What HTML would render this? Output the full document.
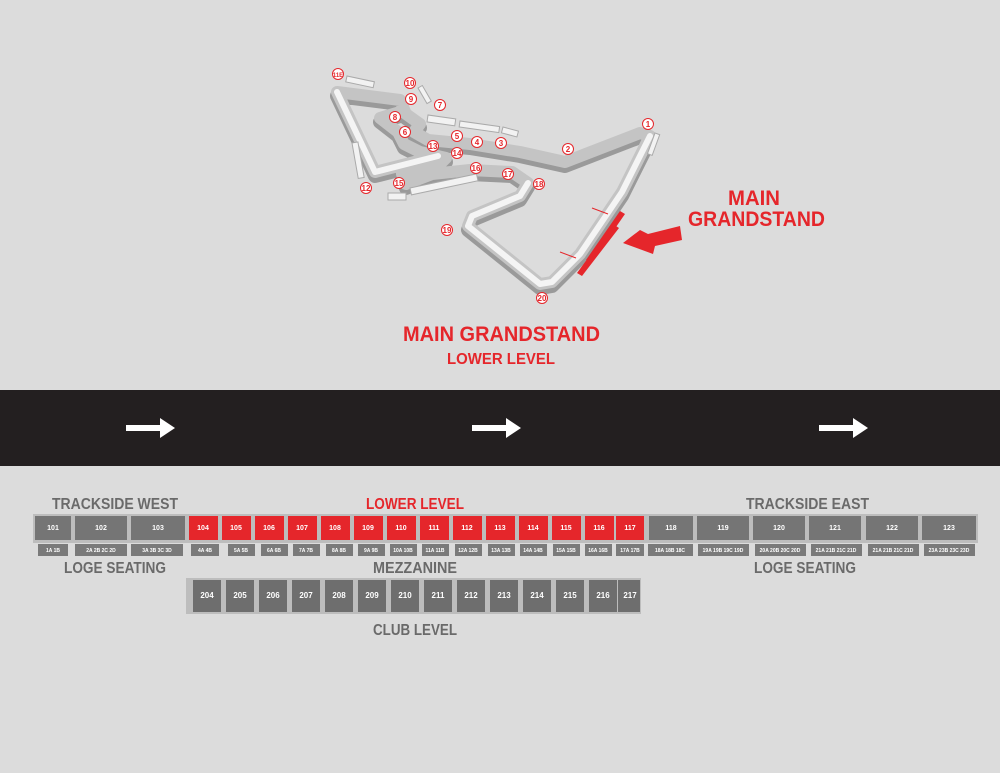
<!DOCTYPE html>
<html><head><meta charset="utf-8"><style>
html,body{margin:0;padding:0;background:#dcdcdc;}
svg{display:block}
text{font-family:"Liberation Sans Narrow","Liberation Sans",sans-serif;font-weight:bold}
</style></head><body>
<svg width="1000" height="773" viewBox="0 0 1000 773" xmlns="http://www.w3.org/2000/svg">
<rect width="1000" height="773" fill="#dcdcdc"/>
<!-- track -->
<g fill="none" stroke-linejoin="round" stroke-linecap="round">
<path d="M337 92 L400 100 L406 114 L420 124 L414 132 L428 140 L470 144 L520 152 L565 162 L640 133 L650 136 L622 192 L580 254 L552 282 L540 284 L468 226 L472 216 L520 196 L528 183 L512 172 L470 170 L432 174 L406 184 L402 174 L440 164 L446 158 L420 152 L404 144 L398 132 L380 118 L400 112 M337 92 L375 172 L438 156" stroke="#9a9a9a" stroke-width="14" transform="translate(0,4)"/>
<path d="M337 92 L400 100 L406 114 L420 124 L414 132 L428 140 L470 144 L520 152 L565 162 L640 133 L650 136 L622 192 L580 254 L552 282 L540 284 L468 226 L472 216 L520 196 L528 183 L512 172 L470 170 L432 174 L406 184 L402 174 L440 164 L446 158 L420 152 L404 144 L398 132 L380 118 L400 112 M337 92 L375 172 L438 156" stroke="#c4c4c4" stroke-width="12"/>
<path d="M337 92 L375 172 L438 156 M650 136 L622 192 L580 254 L552 282 L540 284 L468 226 L472 216 L520 196 L528 183" stroke="#f4f4f4" stroke-width="6"/>
</g>
<g fill="#f2f2f2" stroke="#aaa" stroke-width="1">
<rect x="347" y="76" width="28" height="6" transform="rotate(12 347 76)"/>
<rect x="428" y="115" width="28" height="7" transform="rotate(8 428 115)"/>
<rect x="460" y="121" width="40" height="6" transform="rotate(8 460 121)"/>
<rect x="503" y="127" width="16" height="6" transform="rotate(15 503 127)"/>
<rect x="352" y="143" width="6" height="36" transform="rotate(-10 352 143)"/>
<rect x="388" y="193" width="18" height="7"/>
<rect x="410" y="188" width="68" height="7" transform="rotate(-12 410 188)"/>
<rect x="418" y="88" width="5" height="18" transform="rotate(-30 418 88)"/>
<rect x="655" y="133" width="5" height="22" transform="rotate(20 655 133)"/>
</g>
<g fill="#e5262b">
<polygon points="620,211 625,214 591,263 586,260"/>
<polygon points="613,224 619,228 582,276 577,273"/>
<polygon points="623,243 640,230 648,234 680,226 682,240 655,246 653,254"/>
</g>
<g stroke="#e5262b" stroke-width="1"><line x1="592" y1="208" x2="608" y2="214"/><line x1="560" y1="252" x2="576" y2="258"/></g>
<g font-size="8" fill="#e5262b" text-anchor="middle">
<g fill="#fff" stroke="#e5262b" stroke-width="1">
<circle cx="338" cy="74" r="5.5"/><circle cx="410" cy="83" r="5.5"/><circle cx="411" cy="99" r="5.5"/><circle cx="440" cy="105" r="5.5"/><circle cx="395" cy="117" r="5.5"/><circle cx="405" cy="132" r="5.5"/><circle cx="457" cy="136" r="5.5"/><circle cx="477" cy="142" r="5.5"/><circle cx="501" cy="143" r="5.5"/><circle cx="433" cy="146" r="5.5"/><circle cx="457" cy="153" r="5.5"/><circle cx="568" cy="149" r="5.5"/><circle cx="648" cy="124" r="5.5"/><circle cx="476" cy="168" r="5.5"/><circle cx="508" cy="174" r="5.5"/><circle cx="539" cy="184" r="5.5"/><circle cx="399" cy="183" r="5.5"/><circle cx="366" cy="188" r="5.5"/><circle cx="447" cy="230" r="5.5"/><circle cx="542" cy="298" r="5.5"/>
</g>
<text x="338" y="77" font-size="6">11E</text><text x="410" y="86">10</text><text x="411" y="102">9</text><text x="440" y="108">7</text><text x="395" y="120">8</text><text x="405" y="135">6</text><text x="457" y="139">5</text><text x="477" y="145">4</text><text x="501" y="146">3</text><text x="433" y="149">13</text><text x="457" y="156">14</text><text x="568" y="152">2</text><text x="648" y="127">1</text><text x="476" y="171">16</text><text x="508" y="177">17</text><text x="539" y="187">18</text><text x="399" y="186">15</text><text x="366" y="191">12</text><text x="447" y="233">19</text><text x="542" y="301">20</text>
</g>
<text x="728" y="205" font-size="21" fill="#e5262b" textLength="52" lengthAdjust="spacingAndGlyphs">MAIN</text>
<text x="688" y="226" font-size="21" fill="#e5262b" textLength="137" lengthAdjust="spacingAndGlyphs">GRANDSTAND</text>
<text x="403" y="341" font-size="21" fill="#e5262b" textLength="197" lengthAdjust="spacingAndGlyphs">MAIN GRANDSTAND</text>
<text x="447" y="364" font-size="16" fill="#e5262b" textLength="108" lengthAdjust="spacingAndGlyphs">LOWER LEVEL</text>
<!-- band -->
<rect x="0" y="390" width="1000" height="76" fill="#231f20"/>
<g fill="#fff">
<polygon points="126,425 160,425 160,418 175,428 160,438 160,431 126,431"/>
<polygon points="472,425 506,425 506,418 521,428 506,438 506,431 472,431"/>
<polygon points="819,425 853,425 853,418 868,428 853,438 853,431 819,431"/>
</g>
<!-- labels -->
<g font-size="16" fill="#6a6a6a" lengthAdjust="spacingAndGlyphs">
<text x="52" y="509" textLength="126" lengthAdjust="spacingAndGlyphs">TRACKSIDE WEST</text>
<text x="746" y="509" textLength="123" lengthAdjust="spacingAndGlyphs">TRACKSIDE EAST</text>
<text x="64" y="573" textLength="102" lengthAdjust="spacingAndGlyphs">LOGE SEATING</text>
<text x="754" y="573" textLength="102" lengthAdjust="spacingAndGlyphs">LOGE SEATING</text>
<text x="373" y="573" textLength="84" lengthAdjust="spacingAndGlyphs">MEZZANINE</text>
<text x="373" y="635" textLength="84" lengthAdjust="spacingAndGlyphs">CLUB LEVEL</text>
</g>
<text x="366" y="509" font-size="16" fill="#e5262b" textLength="98" lengthAdjust="spacingAndGlyphs">LOWER LEVEL</text>
<rect x="33" y="514" width="945" height="29" fill="#bdbdbd"/>
<g fill="#757575">
<rect x="35" y="516" width="36" height="24"/><rect x="75" y="516" width="52" height="24"/><rect x="131" y="516" width="54" height="24"/>
<rect x="649" y="516" width="44" height="24"/><rect x="697" y="516" width="52" height="24"/><rect x="753" y="516" width="52" height="24"/><rect x="809" y="516" width="52" height="24"/><rect x="866" y="516" width="52" height="24"/><rect x="922" y="516" width="54" height="24"/>
</g>
<g fill="#e5262b">
<rect x="189" y="516" width="29" height="24"/><rect x="222" y="516" width="29" height="24"/><rect x="255" y="516" width="29" height="24"/><rect x="288" y="516" width="29" height="24"/><rect x="321" y="516" width="29" height="24"/><rect x="354" y="516" width="29" height="24"/><rect x="387" y="516" width="29" height="24"/><rect x="420" y="516" width="29" height="24"/><rect x="453" y="516" width="29" height="24"/><rect x="486" y="516" width="29" height="24"/><rect x="519" y="516" width="29" height="24"/><rect x="552" y="516" width="29" height="24"/><rect x="585" y="516" width="29" height="24"/><rect x="616" y="516" width="28" height="24"/>
</g>
<g font-size="7" fill="#fff" text-anchor="middle">
<text x="53" y="530">101</text><text x="101" y="530">102</text><text x="158" y="530">103</text>
<text x="203" y="530">104</text><text x="236" y="530">105</text><text x="269" y="530">106</text><text x="302" y="530">107</text><text x="335" y="530">108</text><text x="368" y="530">109</text><text x="401" y="530">110</text><text x="434" y="530">111</text><text x="467" y="530">112</text><text x="500" y="530">113</text><text x="533" y="530">114</text><text x="566" y="530">115</text><text x="599" y="530">116</text><text x="630" y="530">117</text>
<text x="671" y="530">118</text><text x="723" y="530">119</text><text x="779" y="530">120</text><text x="835" y="530">121</text><text x="892" y="530">122</text><text x="949" y="530">123</text>
</g>
<!-- loge -->
<g fill="#7a7a7a">
<rect x="38" y="544" width="30" height="12"/><rect x="75" y="544" width="52" height="12"/><rect x="131" y="544" width="52" height="12"/>
<rect x="191" y="544" width="28" height="12"/><rect x="228" y="544" width="27" height="12"/><rect x="261" y="544" width="27" height="12"/><rect x="293" y="544" width="27" height="12"/><rect x="326" y="544" width="27" height="12"/><rect x="358" y="544" width="27" height="12"/><rect x="390" y="544" width="27" height="12"/><rect x="422" y="544" width="27" height="12"/><rect x="455" y="544" width="27" height="12"/><rect x="488" y="544" width="27" height="12"/><rect x="520" y="544" width="27" height="12"/><rect x="553" y="544" width="27" height="12"/><rect x="585" y="544" width="27" height="12"/><rect x="616" y="544" width="28" height="12"/>
<rect x="648" y="544" width="45" height="12"/><rect x="698" y="544" width="51" height="12"/><rect x="755" y="544" width="51" height="12"/><rect x="811" y="544" width="51" height="12"/><rect x="868" y="544" width="51" height="12"/><rect x="924" y="544" width="51" height="12"/>
</g>
<g font-size="5" fill="#fff" text-anchor="middle">
<text x="53" y="552">1A  1B</text><text x="101" y="552">2A 2B 2C 2D</text><text x="157" y="552">3A 3B 3C 3D</text>
<text x="205" y="552">4A 4B</text><text x="241" y="552">5A 5B</text><text x="274" y="552">6A 6B</text><text x="306" y="552">7A 7B</text><text x="339" y="552">8A 8B</text><text x="371" y="552">9A 9B</text><text x="403" y="552">10A 10B</text><text x="435" y="552">11A 11B</text><text x="468" y="552">12A 12B</text><text x="501" y="552">13A 13B</text><text x="533" y="552">14A 14B</text><text x="566" y="552">15A 15B</text><text x="598" y="552">16A 16B</text><text x="630" y="552">17A 17B</text>
<text x="670" y="552">18A 18B 18C</text><text x="723" y="552">19A 19B 19C 19D</text><text x="780" y="552">20A 20B 20C 20D</text><text x="836" y="552">21A 21B 21C 21D</text><text x="893" y="552">21A 21B 21C 21D</text><text x="949" y="552">23A 23B 23C 23D</text>
</g>
<!-- club -->
<rect x="186" y="578" width="455" height="36" fill="#bdbdbd"/>
<g fill="#6e6e6e">
<rect x="193" y="580" width="28" height="32"/><rect x="226" y="580" width="28" height="32"/><rect x="259" y="580" width="28" height="32"/><rect x="292" y="580" width="28" height="32"/><rect x="325" y="580" width="28" height="32"/><rect x="358" y="580" width="28" height="32"/><rect x="391" y="580" width="28" height="32"/><rect x="424" y="580" width="28" height="32"/><rect x="457" y="580" width="28" height="32"/><rect x="490" y="580" width="28" height="32"/><rect x="523" y="580" width="28" height="32"/><rect x="556" y="580" width="28" height="32"/><rect x="589" y="580" width="28" height="32"/><rect x="618" y="580" width="22" height="32"/>
</g>
<g font-size="8" fill="#fff" text-anchor="middle">
<text x="207" y="598">204</text><text x="240" y="598">205</text><text x="273" y="598">206</text><text x="306" y="598">207</text><text x="339" y="598">208</text><text x="372" y="598">209</text><text x="405" y="598">210</text><text x="438" y="598">211</text><text x="471" y="598">212</text><text x="504" y="598">213</text><text x="537" y="598">214</text><text x="570" y="598">215</text><text x="603" y="598">216</text><text x="630" y="598">217</text>
</g>
</svg>
</body></html>
